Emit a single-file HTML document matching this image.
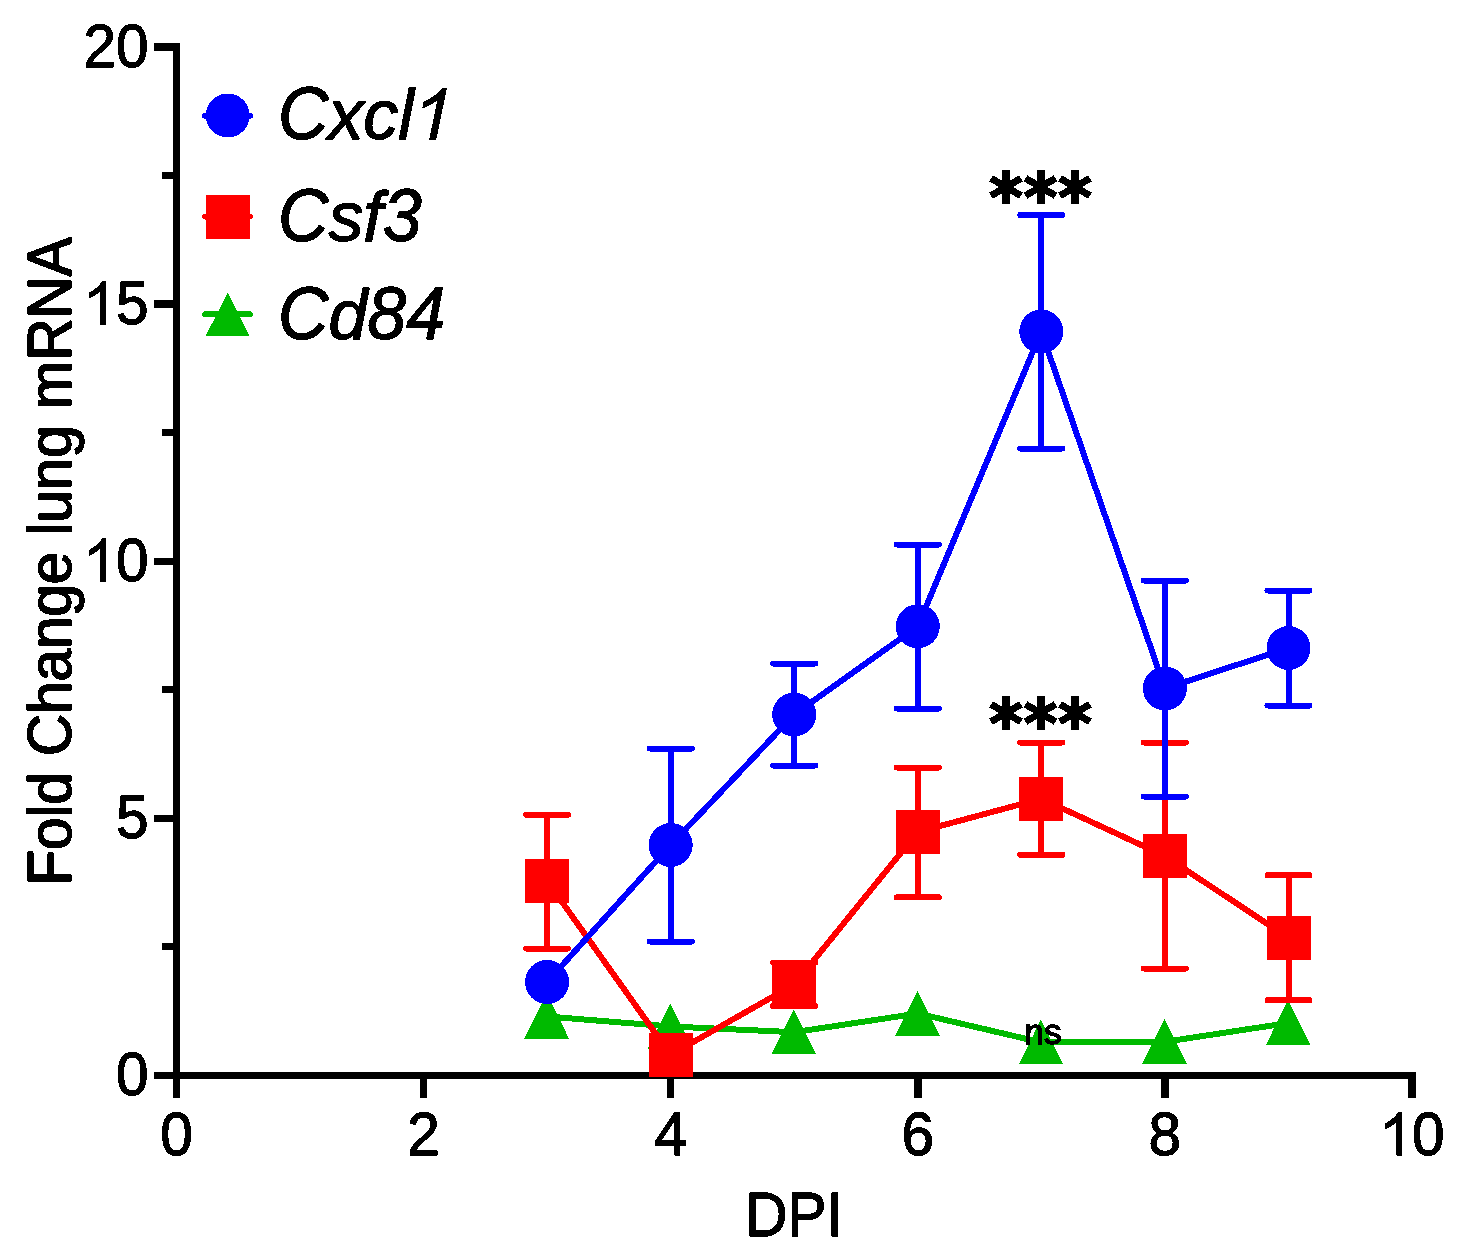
<!DOCTYPE html>
<html lang="en">
<head>
<meta charset="utf-8">
<title>Fold Change lung mRNA vs DPI</title>
<style>
html,body{margin:0;padding:0;background:#ffffff;}
body{width:1459px;height:1260px;overflow:hidden;}
svg{display:block;}
text{font-family:"Liberation Sans",sans-serif;fill:#000000;font-kerning:none;white-space:pre;}
</style>
</head>
<body>
<svg width="1459" height="1260" viewBox="0 0 1459 1260" shape-rendering="crispEdges">
<defs>
<filter id="thr" x="-5%" y="-5%" width="110%" height="110%" color-interpolation-filters="sRGB">
<feComponentTransfer><feFuncA type="discrete" tableValues="0 0 1 1 1 1 1 1"/></feComponentTransfer>
</filter>
</defs>
<rect x="0" y="0" width="1459" height="1260" fill="#ffffff"/>
<g id="axes" fill="#000">
<rect x="173" y="43" width="7" height="1055"/>
<rect x="154" y="1072" width="1262" height="7"/>
<rect x="154" y="43" width="20" height="8"/>
<rect x="154" y="300" width="20" height="8"/>
<rect x="154" y="558" width="20" height="7"/>
<rect x="154" y="815" width="20" height="7"/>
<rect x="162" y="172" width="12" height="7"/>
<rect x="162" y="429" width="12" height="7"/>
<rect x="162" y="686" width="12" height="7"/>
<rect x="162" y="943" width="12" height="7"/>
<rect x="420" y="1072" width="7" height="26"/>
<rect x="667" y="1072" width="7" height="26"/>
<rect x="914" y="1072" width="8" height="26"/>
<rect x="1161" y="1072" width="8" height="26"/>
<rect x="1408" y="1072" width="8" height="26"/>
</g>
<g id="green">
<path d="M547.1 1016.5 L670.7 1026.5 L794.2 1032.2 L917.8 1013.5 L1041.3 1042.4 L1164.9 1041.8 L1288.5 1023.0" fill="none" stroke="#00ba00" stroke-width="6" stroke-linejoin="round" stroke-linecap="round"/>
<path d="M546.8 993.8L569.0 1038.5H524.5Z" fill="#00ba00"/>
<path d="M670.3 1003.8L692.6 1048.5H648.0Z" fill="#00ba00"/>
<path d="M793.9 1009.5L816.1 1054.2H771.6Z" fill="#00ba00"/>
<path d="M917.4 990.8L939.7 1035.5H895.1Z" fill="#00ba00"/>
<path d="M1040.9 1019.7L1063.2 1064.4H1018.6Z" fill="#00ba00"/>
<path d="M1164.5 1019.1L1186.8 1063.8H1142.2Z" fill="#00ba00"/>
<path d="M1288.0 1000.3L1310.3 1045.0H1265.8Z" fill="#00ba00"/>
</g>
<g id="red">
<path d="M547.1 814.7V948.5M526.1 814.7h42M526.1 948.5h42" fill="none" stroke="#ff0000" stroke-width="6" stroke-linecap="round"/>
<path d="M794.2 962.6V1006.0M773.2 962.6h42M773.2 1006.0h42" fill="none" stroke="#ff0000" stroke-width="6" stroke-linecap="round"/>
<path d="M917.8 767.5V897.4M896.8 767.5h42M896.8 897.4h42" fill="none" stroke="#ff0000" stroke-width="6" stroke-linecap="round"/>
<path d="M1041.3 742.5V854.7M1020.3 742.5h42M1020.3 854.7h42" fill="none" stroke="#ff0000" stroke-width="6" stroke-linecap="round"/>
<path d="M1164.9 742.5V968.5M1143.9 742.5h42M1143.9 968.5h42" fill="none" stroke="#ff0000" stroke-width="6" stroke-linecap="round"/>
<path d="M1288.5 875.3V1000.3M1267.5 875.3h42M1267.5 1000.3h42" fill="none" stroke="#ff0000" stroke-width="6" stroke-linecap="round"/>
<path d="M547.1 881.0 L670.7 1054.8 L794.2 984.5 L917.8 832.0 L1041.3 798.7 L1164.9 856.0 L1288.5 937.8" fill="none" stroke="#ff0000" stroke-width="6" stroke-linejoin="round" stroke-linecap="round"/>
<rect x="525.1" y="859.0" width="44" height="44" fill="#ff0000"/>
<rect x="648.7" y="1032.8" width="44" height="44" fill="#ff0000"/>
<rect x="772.2" y="962.5" width="44" height="44" fill="#ff0000"/>
<rect x="895.8" y="810.0" width="44" height="44" fill="#ff0000"/>
<rect x="1019.3" y="776.7" width="44" height="44" fill="#ff0000"/>
<rect x="1142.9" y="834.0" width="44" height="44" fill="#ff0000"/>
<rect x="1266.5" y="915.8" width="44" height="44" fill="#ff0000"/>
</g>
<g id="blue">
<path d="M670.7 748.5V941.5M649.7 748.5h42M649.7 941.5h42" fill="none" stroke="#0000ff" stroke-width="6" stroke-linecap="round"/>
<path d="M794.2 663.5V765.5M773.2 663.5h42M773.2 765.5h42" fill="none" stroke="#0000ff" stroke-width="6" stroke-linecap="round"/>
<path d="M917.8 544.5V708.5M896.8 544.5h42M896.8 708.5h42" fill="none" stroke="#0000ff" stroke-width="6" stroke-linecap="round"/>
<path d="M1041.3 215.0V448.5M1020.3 215.0h42M1020.3 448.5h42" fill="none" stroke="#0000ff" stroke-width="6" stroke-linecap="round"/>
<path d="M1164.9 580.5V796.5M1143.9 580.5h42M1143.9 796.5h42" fill="none" stroke="#0000ff" stroke-width="6" stroke-linecap="round"/>
<path d="M1288.5 590.5V705.5M1267.5 590.5h42M1267.5 705.5h42" fill="none" stroke="#0000ff" stroke-width="6" stroke-linecap="round"/>
<path d="M547.1 982.0 L670.7 845.0 L794.2 714.5 L917.8 626.3 L1041.3 331.5 L1164.9 688.4 L1288.5 648.0" fill="none" stroke="#0000ff" stroke-width="6" stroke-linejoin="round" stroke-linecap="round"/>
<circle cx="547.1" cy="982.0" r="22" fill="#0000ff"/>
<circle cx="670.7" cy="845.0" r="22" fill="#0000ff"/>
<circle cx="794.2" cy="714.5" r="22" fill="#0000ff"/>
<circle cx="917.8" cy="626.3" r="22" fill="#0000ff"/>
<circle cx="1041.3" cy="331.5" r="22" fill="#0000ff"/>
<circle cx="1164.9" cy="688.4" r="22" fill="#0000ff"/>
<circle cx="1288.5" cy="648.0" r="22" fill="#0000ff"/>
</g>
<path d="M205 115.8H250" stroke="#0000ff" stroke-width="6" stroke-linecap="round"/><circle cx="227.7" cy="115.5" r="22" fill="#0000ff"/>
<path d="M205 216.5H250" stroke="#ff0000" stroke-width="6" stroke-linecap="round"/><rect x="205.7" y="195" width="44" height="44" fill="#ff0000"/>
<path d="M205 314.4H250" stroke="#00ba00" stroke-width="6" stroke-linecap="round"/><path d="M227.7 292.5L249.7 336H205.7Z" fill="#00ba00"/>
<g id="stars" stroke="#000" fill="none">
<path d="M1006 170V204" stroke-width="8"/><path d="M991.02 178.35L1020.98 195.65M991.02 195.65L1020.98 178.35" stroke-width="7"/>
<path d="M1040.5 170V204" stroke-width="8"/><path d="M1025.52 178.35L1055.48 195.65M1025.52 195.65L1055.48 178.35" stroke-width="7"/>
<path d="M1075 170V204" stroke-width="8"/><path d="M1060.02 178.35L1089.98 195.65M1060.02 195.65L1089.98 178.35" stroke-width="7"/>
<path d="M1006 696V730" stroke-width="8"/><path d="M991.02 704.35L1020.98 721.65M991.02 721.65L1020.98 704.35" stroke-width="7"/>
<path d="M1040.5 696V730" stroke-width="8"/><path d="M1025.52 704.35L1055.48 721.65M1025.52 721.65L1055.48 704.35" stroke-width="7"/>
<path d="M1075 696V730" stroke-width="8"/><path d="M1060.02 704.35L1089.98 721.65M1060.02 721.65L1089.98 704.35" stroke-width="7"/>
</g>
<g id="labels" filter="url(#thr)">
<g transform="translate(148.5 1095.3)" font-size="61.3" stroke="#000" stroke-width="0.8" stroke-linejoin="round"><text transform="translate(-32.56 0) scale(0.955 0.995)">0</text></g>
<g transform="translate(148.5 838.1)" font-size="61.3" stroke="#000" stroke-width="0.8" stroke-linejoin="round"><text transform="translate(-32.56 0) scale(0.955 0.995)">5</text></g>
<g transform="translate(148.5 581.0)" font-size="61.3" stroke="#000" stroke-width="0.8" stroke-linejoin="round"><path transform="translate(-64.52 0.6) scale(0.02858 -0.02939)" d="M763 0H583V1147Q512 1080 400 1010Q290 940 188 896V1070Q350 1150 475 1262Q600 1377 647 1472H763Z" stroke-width="13.4" stroke-linejoin="miter" shape-rendering="geometricPrecision"/><text transform="translate(-32.56 0) scale(0.955 0.995)">0</text></g>
<g transform="translate(148.5 323.8)" font-size="61.3" stroke="#000" stroke-width="0.8" stroke-linejoin="round"><path transform="translate(-64.52 0.6) scale(0.02858 -0.02939)" d="M763 0H583V1147Q512 1080 400 1010Q290 940 188 896V1070Q350 1150 475 1262Q600 1377 647 1472H763Z" stroke-width="13.4" stroke-linejoin="miter" shape-rendering="geometricPrecision"/><text transform="translate(-32.56 0) scale(0.955 0.995)">5</text></g>
<g transform="translate(148.5 66.7)" font-size="61.3" stroke="#000" stroke-width="0.8" stroke-linejoin="round"><text transform="translate(-65.12 0) scale(0.955 0.995)">20</text></g>
<g transform="translate(176.5 1154.6)" font-size="61.3" stroke="#000" stroke-width="0.8" stroke-linejoin="round"><text transform="translate(-16.28 0) scale(0.955 0.995)">0</text></g>
<g transform="translate(423.6 1154.6)" font-size="61.3" stroke="#000" stroke-width="0.8" stroke-linejoin="round"><text transform="translate(-16.28 0) scale(0.955 0.995)">2</text></g>
<g transform="translate(670.7 1154.6)" font-size="61.3" stroke="#000" stroke-width="0.8" stroke-linejoin="round"><text transform="translate(-16.28 0) scale(0.955 0.995)">4</text></g>
<g transform="translate(917.8 1154.6)" font-size="61.3" stroke="#000" stroke-width="0.8" stroke-linejoin="round"><text transform="translate(-16.28 0) scale(0.955 0.995)">6</text></g>
<g transform="translate(1164.9 1154.6)" font-size="61.3" stroke="#000" stroke-width="0.8" stroke-linejoin="round"><text transform="translate(-16.28 0) scale(0.955 0.995)">8</text></g>
<g transform="translate(1412.0 1154.6)" font-size="61.3" stroke="#000" stroke-width="0.8" stroke-linejoin="round"><path transform="translate(-31.96 0.6) scale(0.02858 -0.02939)" d="M763 0H583V1147Q512 1080 400 1010Q290 940 188 896V1070Q350 1150 475 1262Q600 1377 647 1472H763Z" stroke-width="13.4" stroke-linejoin="miter" shape-rendering="geometricPrecision"/><text transform="translate(0.00 0) scale(0.955 0.995)">0</text></g>
<g transform="translate(794 1236.2)" font-size="61.3" stroke="#000" stroke-width="0.8" stroke-linejoin="round"><text transform="translate(-48.79 0) scale(0.955 1.03)">DPI</text></g>
<g transform="translate(71.0 561.5) rotate(-90)" font-size="61.3" stroke="#000" stroke-width="0.8" stroke-linejoin="round"><text transform="translate(-324.03 0) scale(0.951 1.03)">F</text><text transform="translate(-288.42 0) scale(0.951 0.985)">old&#160;</text><text transform="translate(-194.43 0) scale(0.951 1.03)">C</text><text transform="translate(-152.33 0) scale(0.951 0.985)">hange&#160;lung&#160;m</text><text transform="translate(200.95 0) scale(0.951 1.03)">RNA</text></g>
</g>
<g id="legend" filter="url(#thr)">
<g transform="translate(278 139.1)" font-size="71.5" font-style="italic" stroke="#000" stroke-width="0.8" stroke-linejoin="round"><text transform="translate(0.00 0) scale(0.977 1.03)">C</text><text transform="translate(50.45 0) scale(0.977 0.985)">xcl</text><path transform="translate(131.77 0.6) scale(0.03411 -0.03509) skewX(12)" d="M763 0H583V1147Q512 1080 400 1010Q290 940 188 896V1070Q350 1150 475 1262Q600 1377 647 1472H763Z" stroke-width="11.5" stroke-linejoin="miter" shape-rendering="geometricPrecision"/></g>
<g transform="translate(278 240.8)" font-size="71.5" font-style="italic" stroke="#000" stroke-width="0.8" stroke-linejoin="round"><text transform="translate(0.00 0) scale(0.977 1.03)">C</text><text transform="translate(50.45 0) scale(0.977 0.985)">sf</text><text transform="translate(104.78 0) scale(0.977 1.035)">3</text></g>
<g transform="translate(278 338.9)" font-size="71.5" font-style="italic" stroke="#000" stroke-width="0.8" stroke-linejoin="round"><text transform="translate(0.00 0) scale(0.977 1.03)">C</text><text transform="translate(50.45 0) scale(0.977 0.985)">d</text><text transform="translate(89.30 0) scale(0.977 1.035)">84</text></g>
</g>
<g filter="url(#thr)"><g transform="translate(1043 1043.8)" font-size="35" stroke="#000" stroke-width="0.8" stroke-linejoin="round"><text transform="translate(-18.67 0) scale(1.01 0.99)">ns</text></g></g>
</svg>
</body>
</html>
